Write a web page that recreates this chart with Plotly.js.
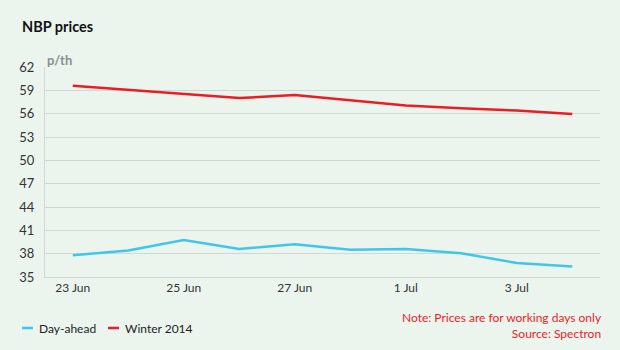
<!DOCTYPE html>
<html><head><meta charset="utf-8">
<script src="https://cdn.plot.ly/plotly-3.0.1.min.js"></script>
<style>html,body{margin:0;padding:0;background:#ebf5ee;}#chart{width:620px;height:350px;}</style>
</head><body><div id="chart"></div>
<script>
var dates = ["23 Jun","24 Jun","25 Jun","26 Jun","27 Jun","30 Jun","1 Jul","2 Jul","3 Jul","4 Jul"];
var tickLabels = ["23 Jun","25 Jun","27 Jun","1 Jul","3 Jul"];
var dayAhead = [37.8, 38.4, 39.75, 38.6, 39.2, 38.5, 38.6, 38.05, 36.8, 36.35];
var winter2014 = [59.6, 59.05, 58.5, 58.0, 58.4, 57.7, 57.05, 56.7, 56.4, 55.95];
var yTicks = [35,38,41,44,47,50,53,56,59,62];
var seriesNames = ["Day-ahead", "Winter 2014"];
var seriesColors = ["#3fc5f0", "#ed1c24"];
var noteLines = ["Note: Prices are for working days only", "Source: Spectron"];

var font = "Lato, 'Open Sans', sans-serif";
var traces = [
  {x: dates, y: dayAhead, name: seriesNames[0], type: "scatter", mode: "lines",
   line: {color: seriesColors[0], width: 2.5}},
  {x: dates, y: winter2014, name: seriesNames[1], type: "scatter", mode: "lines",
   line: {color: seriesColors[1], width: 2.5}}
];
var legendX = [22, 108];
var shapes = [], anns = [];
var ly = (350 - 73 - 328) / 210;
for (var i = 0; i < seriesNames.length; i++) {
  shapes.push({type: "line", xref: "paper", yref: "paper",
    x0: (legendX[i] - 45) / 555, x1: (legendX[i] + 11 - 45) / 555,
    y0: ly, y1: ly, line: {color: seriesColors[i], width: 2.5}});
  anns.push({text: seriesNames[i], xref: "paper", yref: "paper",
    x: (legendX[i] + 15 - 45) / 555, y: ly, xanchor: "left", yanchor: "middle",
    showarrow: false, font: {family: font, size: 12, color: "#222"}});
}
anns.push({text: "<b>p/th</b>", xref: "paper", yref: "paper", x: 0.0, y: 1.0, xanchor: "left", yanchor: "bottom",
     yshift: -3, showarrow: false, font: {family: font, size: 13, color: "#8a8f8c"}});
anns.push({text: noteLines.join("<br>"), xref: "paper", yref: "paper",
     x: (603 - 45) / 555, y: (350 - 73 - 325) / 210, xanchor: "right", yanchor: "middle", align: "right",
     showarrow: false, borderpad: 0, font: {family: font, size: 12, color: "#ed1c24"}});

var layout = {
  width: 620, height: 350,
  paper_bgcolor: "#ebf5ee", plot_bgcolor: "#ebf5ee",
  margin: {l: 45, r: 20, t: 67, b: 73},
  font: {family: font, size: 13, color: "#333"},
  title: {text: "<b>NBP prices</b>", x: 0, xref: "container", xanchor: "left", y: 1 - 27 / 350, yref: "container", yanchor: "middle",
          pad: {l: 22}, font: {family: font, size: 14.5, color: "#111"}},
  showlegend: false,
  xaxis: {type: "category", tickvals: tickLabels, ticktext: tickLabels, range: [-0.5, 9.5],
          showgrid: false, zeroline: false, showline: true, linecolor: "#cfd8d2", linewidth: 1,
          ticks: "", ticklabelstandoff: 0, tickfont: {size: 12, color: "#333"}, fixedrange: true},
  yaxis: {range: [35, 62], tickvals: yTicks, showgrid: true, gridcolor: "#cfd8d2", gridwidth: 1,
          zeroline: false, showline: true, linecolor: "#cfd8d2", ticks: "", ticklabelstandoff: 7,
          tickfont: {size: 13, color: "#333"}},
  shapes: shapes,
  annotations: anns
};
Plotly.newPlot("chart", traces, layout, {displayModeBar: false, staticPlot: true});
</script></body></html>
